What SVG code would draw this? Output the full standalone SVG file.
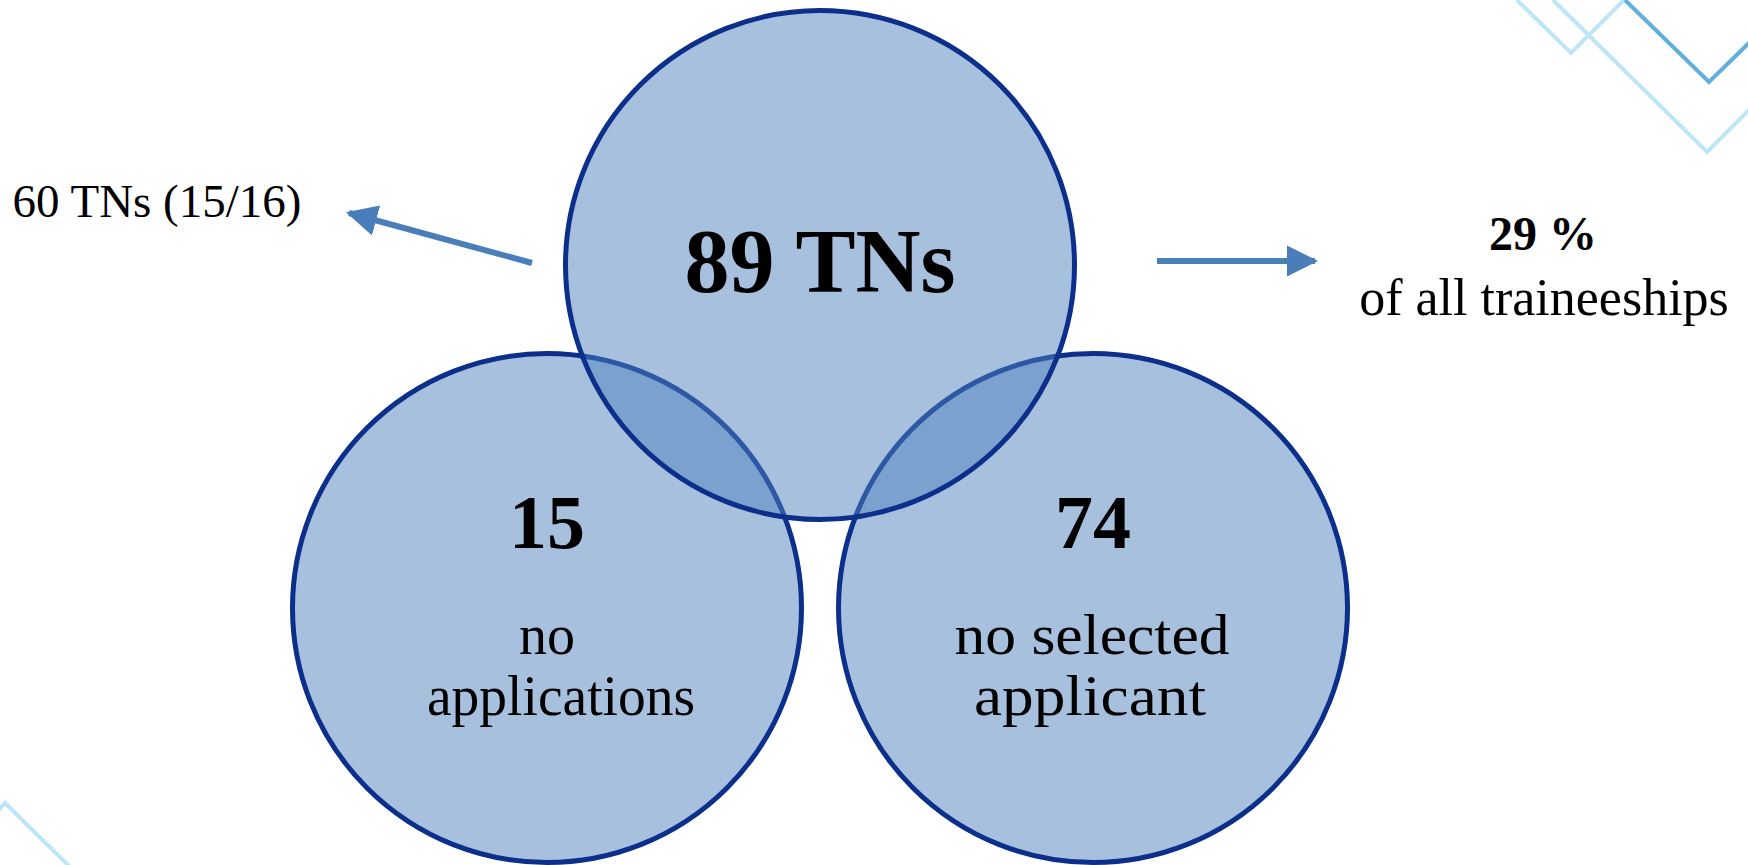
<svg xmlns="http://www.w3.org/2000/svg" width="1748" height="865" viewBox="0 0 1748 865">
<style>
.c{fill:#4F81BD;fill-opacity:0.5;stroke:#0B2F8A;stroke-width:5}
.t{font-family:"Liberation Serif","Times New Roman",serif;fill:#000;text-anchor:middle}
.b{font-weight:bold}
.deco{fill:none;stroke-width:4;stroke-linejoin:miter}
.arr{stroke:#4A7EBB;stroke-width:6;fill:none}
</style>
<defs>
<marker id="ah" viewBox="0 0 10 10" refX="9" refY="5" markerWidth="5.2" markerHeight="5.5" orient="auto" markerUnits="strokeWidth">
<path d="M0,0 L10,5 L0,10 Z" fill="#4A7EBB"/>
</marker>
</defs>
<rect width="1748" height="865" fill="#fff"/>
<g id="decoration">
<polyline class="deco" stroke="#BEE5F7" points="1517,0 1571,53 1624,0"/>
<polyline class="deco" stroke="#BEE5F7" points="1553,0 1707,152 1752,107"/>
<polyline class="deco" stroke="#62AEDC" points="1625,0 1709,82 1752,40"/>
<polyline class="deco" stroke="#BEE5F7" points="-4,813 5,803 70,867"/>
</g>
<g id="node-left">
<circle class="c" cx="547" cy="608" r="254.5"/>
<text class="t b" x="547" y="548" font-size="76">15</text>
<text class="t" x="547" y="654" font-size="56">no</text>
<text class="t" x="561" y="715" font-size="56" textLength="268" lengthAdjust="spacingAndGlyphs">applications</text>
</g>
<g id="node-right">
<circle class="c" cx="1093" cy="608" r="254.5"/>
<text class="t b" x="1093" y="548" font-size="76">74</text>
<text class="t" x="1092" y="654" font-size="56" textLength="275" lengthAdjust="spacingAndGlyphs">no selected</text>
<text class="t" x="1090" y="715" font-size="56" textLength="232" lengthAdjust="spacingAndGlyphs">applicant</text>
</g>
<g id="node-top">
<circle class="c" cx="820" cy="265" r="254.5"/>
<text class="t b" x="820" y="292" font-size="90">89 TNs</text>
</g>
<g id="label-left">
<text class="t" x="157" y="217" font-size="47">60 TNs (15/16)</text>
</g>
<g id="label-right">
<text class="t b" x="1543" y="250" font-size="48">29 %</text>
<text class="t" x="1544" y="315" font-size="52">of all traineeships</text>
</g>
<g id="connectors">
<line class="arr" x1="532" y1="263" x2="349" y2="213" marker-end="url(#ah)"/>
<line class="arr" x1="1157" y1="261" x2="1315" y2="261" marker-end="url(#ah)"/>
</g>
</svg>
